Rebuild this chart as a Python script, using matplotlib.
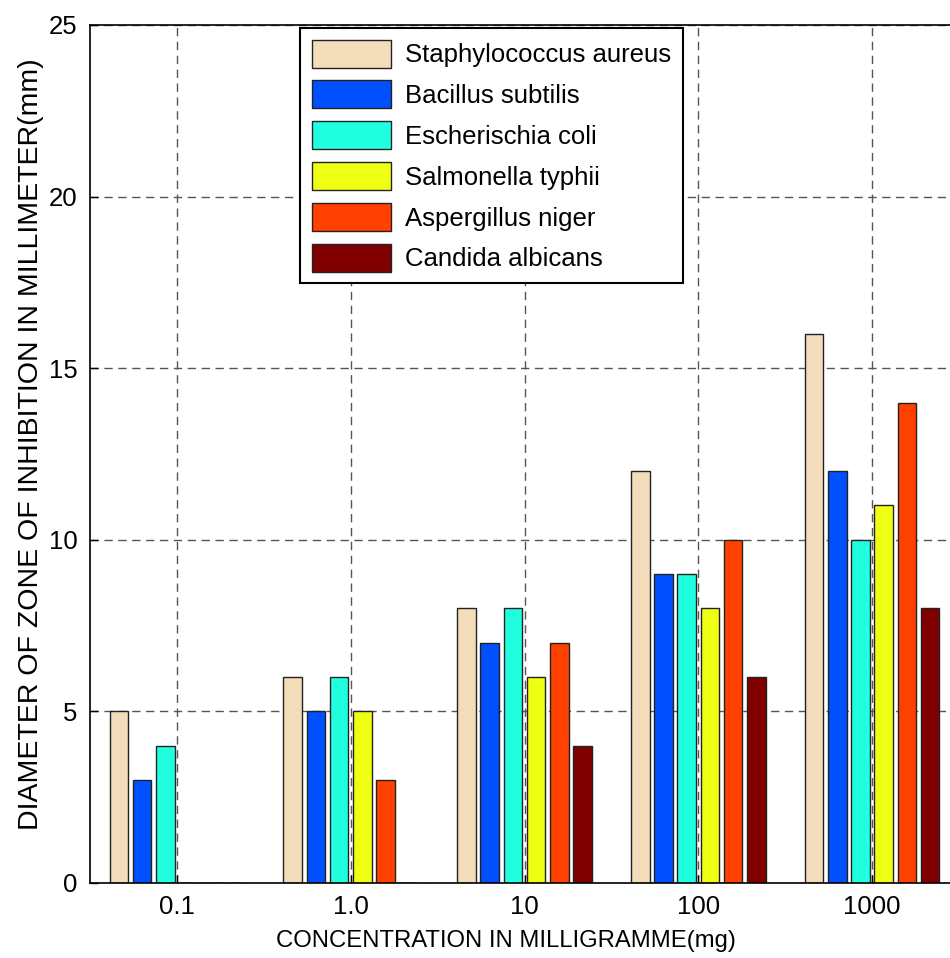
import numpy as np
import matplotlib
matplotlib.use("Agg")
import matplotlib.pyplot as plt

plt.rcParams['font.family'] = ['Liberation Sans', 'DejaVu Sans']

# data
concentrations = ["0.1", "1.0", "10", "100", "1000"]
organisms = ["Staphylococcus aureus", "Bacillus subtilis", "Escherischia coli",
             "Salmonella typhii", "Aspergillus niger", "Candida albicans"]
staph = [5, 6, 8, 12, 16]
bacillus = [3, 5, 7, 9, 12]
ecoli = [4, 6, 8, 9, 10]
salmonella = [0, 5, 6, 8, 11]
aspergillus = [0, 3, 7, 10, 14]
candida = [0, 0, 4, 6, 8]
colors = ["#F2DCB9", "#0050FF", "#20FFE0", "#EEFF14", "#FF4000", "#800000"]

series = [staph, bacillus, ecoli, salmonella, aspergillus, candida]

fig = plt.figure(figsize=(9.5, 9.58), dpi=100)
# axes runs a little past the right edge, like the cropped original
ax = fig.add_axes([90 / 950, 75 / 958, 869 / 950, 858 / 958])

x = np.arange(1, len(concentrations) + 1)
n = len(series)
slot = 0.8 / n
for i, (vals, c, name) in enumerate(zip(series, colors, organisms)):
    ax.bar(x + (i - (n - 1) / 2) * slot, vals, width=slot * 0.8, color=c,
           edgecolor="#222222", linewidth=1.0, label=name, zorder=2)

ax.set_xlim(0.5, 5.5)
ax.set_ylim(0, 25)
ax.set_xticks(x)
ax.set_xticklabels(concentrations)
ax.set_yticks([0, 5, 10, 15, 20, 25])
ax.tick_params(direction="in", length=6, width=1, labelsize=18.5, pad=9)
ax.grid(True, color="#555555", linestyle=(0, (6, 4)), linewidth=1.0, zorder=0)
ax.set_axisbelow(True)
for s in ax.spines.values():
    s.set_linewidth(1.2)

ax.set_xlabel("CONCENTRATION IN MILLIGRAMME(mg)", fontsize=17.2)
ax.set_ylabel("DIAMETER OF ZONE OF INHIBITION IN MILLIMETER(mm)", fontsize=20.5)
ax.xaxis.set_label_coords(0.479, -0.055)
ax.yaxis.set_label_coords(-0.053, 0.512)

leg = ax.legend(loc="upper left", bbox_to_anchor=(300 / 950, 1 - 28 / 958),
                bbox_transform=fig.transFigure, fontsize=18.5, fancybox=False,
                framealpha=1, edgecolor="black", handlelength=3.1,
                handleheight=1.3, labelspacing=0.5, borderpad=0.45,
                handletextpad=0.55, borderaxespad=0)
leg.get_frame().set_linewidth(1.5)

fig.savefig("out.png", dpi=100)
